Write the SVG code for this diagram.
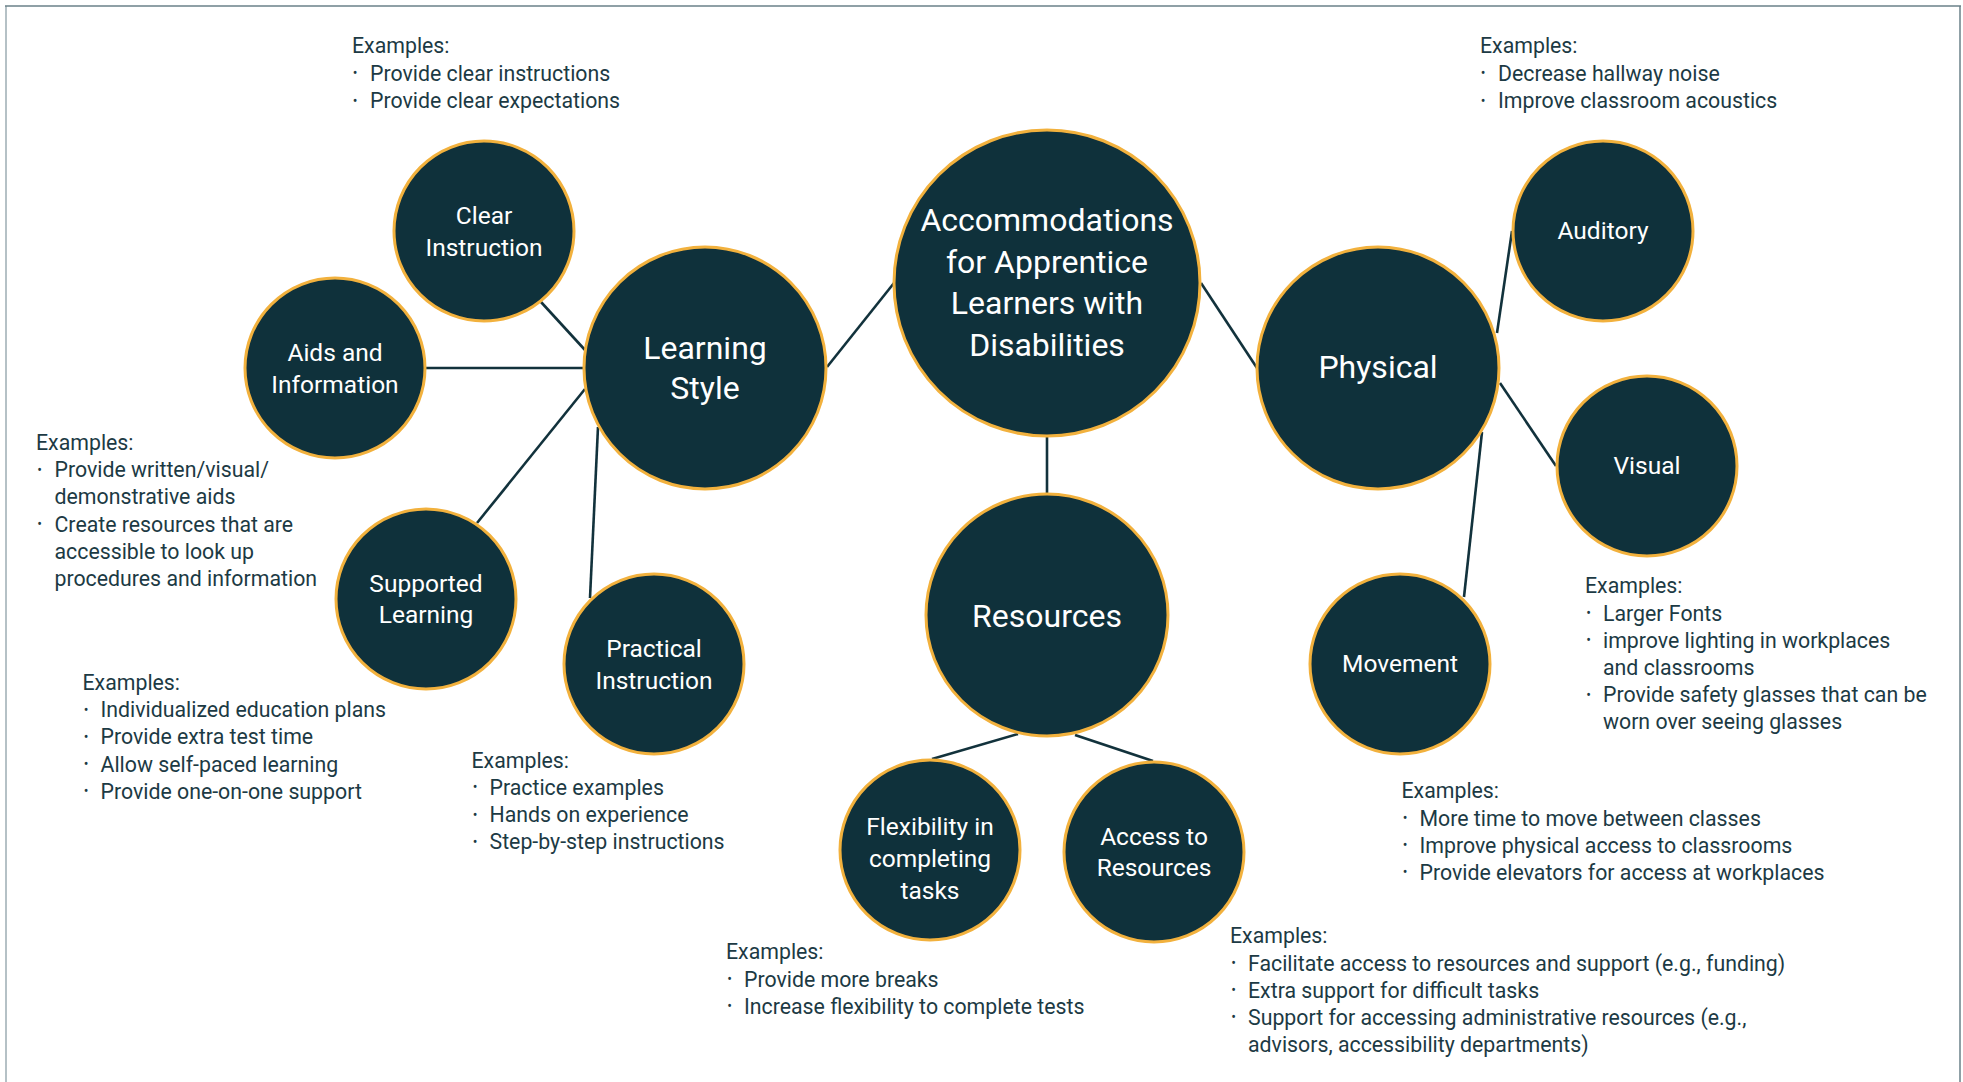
<svg xmlns="http://www.w3.org/2000/svg" width="1963" height="1082" viewBox="0 0 1963 1082">
  <style>
    .node circle { fill: #0f313b; stroke: #f2b13d; stroke-width: 3; }
    .node text { fill: #ffffff; font-family: Roboto, "Liberation Sans", sans-serif; text-anchor: middle; }
    .sm { font-size: 24.5px; }
    .lg { font-size: 32px; }
    .links line { stroke: #12323c; stroke-width: 2.6; }
    .ex text { fill: #1c3a44; font-family: Roboto, "Liberation Sans", sans-serif; font-size: 21.3px; }
    .ex text.b { font-size: 14px; text-anchor: middle; }
  </style>
  <rect width="1963" height="1082" fill="#ffffff"/>
  <!-- frame -->
  <g id="frame" fill="none">
    <line x1="6" y1="6" x2="6" y2="1082" stroke="#b5c1c6" stroke-width="2"/>
    <line x1="5" y1="6" x2="1961" y2="6" stroke="#6a8189" stroke-width="1.5"/>
    <line x1="1960" y1="6" x2="1960" y2="1082" stroke="#6a8189" stroke-width="1.5"/>
  </g>

  <!-- connectors -->
  <g id="connectors" class="links">
    <line x1="894" y1="283" x2="827" y2="367"/>
    <line x1="1201" y1="283" x2="1257" y2="368"/>
    <line x1="1047" y1="437" x2="1047" y2="493"/>
    <line x1="541" y1="302" x2="585" y2="350"/>
    <line x1="426" y1="368" x2="584" y2="368"/>
    <line x1="477" y1="523" x2="585" y2="389"/>
    <line x1="598" y1="427" x2="590" y2="598"/>
    <line x1="1512" y1="231" x2="1497" y2="333"/>
    <line x1="1500" y1="383" x2="1556" y2="466"/>
    <line x1="1482" y1="432" x2="1464" y2="597"/>
    <line x1="1018" y1="734" x2="932" y2="759"/>
    <line x1="1075" y1="735" x2="1153" y2="761"/>
  </g>

  <!-- nodes -->
  <g id="node-center" class="node">
    <circle cx="1047" cy="283" r="153"/>
    <text class="lg" x="1047" y="231">Accommodations</text>
    <text class="lg" x="1047" y="272.5">for Apprentice</text>
    <text class="lg" x="1047" y="314">Learners with</text>
    <text class="lg" x="1047" y="355.5">Disabilities</text>
  </g>
  <g id="node-learning-style" class="node">
    <circle cx="705" cy="368" r="121"/>
    <text class="lg" x="705" y="358.5">Learning</text>
    <text class="lg" x="705" y="398.5">Style</text>
  </g>
  <g id="node-physical" class="node">
    <circle cx="1378" cy="368" r="121"/>
    <text class="lg" x="1378" y="378">Physical</text>
  </g>
  <g id="node-resources" class="node">
    <circle cx="1047" cy="615" r="121"/>
    <text class="lg" x="1047" y="626.5">Resources</text>
  </g>
  <g id="node-clear-instruction" class="node">
    <circle cx="484" cy="231" r="90"/>
    <text class="sm" x="484" y="223.5">Clear</text>
    <text class="sm" x="484" y="256">Instruction</text>
  </g>
  <g id="node-aids" class="node">
    <circle cx="335" cy="368" r="90"/>
    <text class="sm" x="335" y="360.5">Aids and</text>
    <text class="sm" x="335" y="393">Information</text>
  </g>
  <g id="node-supported" class="node">
    <circle cx="426" cy="599" r="90"/>
    <text class="sm" x="426" y="591.5">Supported</text>
    <text class="sm" x="426" y="623">Learning</text>
  </g>
  <g id="node-practical" class="node">
    <circle cx="654" cy="664" r="90"/>
    <text class="sm" x="654" y="656.5">Practical</text>
    <text class="sm" x="654" y="688.5">Instruction</text>
  </g>
  <g id="node-auditory" class="node">
    <circle cx="1603" cy="231" r="90"/>
    <text class="sm" x="1603" y="239">Auditory</text>
  </g>
  <g id="node-visual" class="node">
    <circle cx="1647" cy="466" r="90"/>
    <text class="sm" x="1647" y="473.5">Visual</text>
  </g>
  <g id="node-movement" class="node">
    <circle cx="1400" cy="664" r="90"/>
    <text class="sm" x="1400" y="671.5">Movement</text>
  </g>
  <g id="node-flexibility" class="node">
    <circle cx="930" cy="850" r="90"/>
    <text class="sm" x="930" y="835">Flexibility in</text>
    <text class="sm" x="930" y="867">completing</text>
    <text class="sm" x="930" y="899">tasks</text>
  </g>
  <g id="node-access" class="node">
    <circle cx="1154" cy="852" r="90"/>
    <text class="sm" x="1154" y="844.5">Access to</text>
    <text class="sm" x="1154" y="876">Resources</text>
  </g>

  <!-- example lists -->
  <g id="ex-clear" class="ex">
    <text x="352" y="53.3">Examples:</text>
    <text class="b" x="355" y="78">•</text><text x="370" y="80.5">Provide clear instructions</text>
    <text class="b" x="355" y="105.5">•</text><text x="370" y="107.8">Provide clear expectations</text>
  </g>
  <g id="ex-auditory" class="ex">
    <text x="1480" y="53.3">Examples:</text>
    <text class="b" x="1483" y="78">•</text><text x="1498" y="80.5">Decrease hallway noise</text>
    <text class="b" x="1483" y="105.5">•</text><text x="1498" y="107.8">Improve classroom acoustics</text>
  </g>
  <g id="ex-aids" class="ex">
    <text x="36" y="450">Examples:</text>
    <text class="b" x="39.5" y="474.7">•</text><text x="54.5" y="477.2">Provide written/visual/</text>
    <text x="54.5" y="504.4">demonstrative aids</text>
    <text class="b" x="39.5" y="529.1">•</text><text x="54.5" y="531.6">Create resources that are</text>
    <text x="54.5" y="558.8">accessible to look up</text>
    <text x="54.5" y="586">procedures and information</text>
  </g>
  <g id="ex-supported" class="ex">
    <text x="82.5" y="690">Examples:</text>
    <text class="b" x="86" y="714.7">•</text><text x="100.5" y="717.2">Individualized education plans</text>
    <text class="b" x="86" y="741.9">•</text><text x="100.5" y="744.4">Provide extra test time</text>
    <text class="b" x="86" y="769.1">•</text><text x="100.5" y="771.6">Allow self-paced learning</text>
    <text class="b" x="86" y="796.3">•</text><text x="100.5" y="798.8">Provide one-on-one support</text>
  </g>
  <g id="ex-practical" class="ex">
    <text x="471.5" y="767.7">Examples:</text>
    <text class="b" x="475" y="792.4">•</text><text x="489.5" y="794.9">Practice examples</text>
    <text class="b" x="475" y="819.6">•</text><text x="489.5" y="822.1">Hands on experience</text>
    <text class="b" x="475" y="846.8">•</text><text x="489.5" y="849.3">Step-by-step instructions</text>
  </g>
  <g id="ex-flexibility" class="ex">
    <text x="726" y="959.3">Examples:</text>
    <text class="b" x="729.5" y="984">•</text><text x="744" y="986.5">Provide more breaks</text>
    <text class="b" x="729.5" y="1011.2">•</text><text x="744" y="1013.7">Increase flexibility to complete tests</text>
  </g>
  <g id="ex-access" class="ex">
    <text x="1230" y="943.3">Examples:</text>
    <text class="b" x="1233.5" y="968">•</text><text x="1248" y="970.5">Facilitate access to resources and support (e.g., funding)</text>
    <text class="b" x="1233.5" y="995.2">•</text><text x="1248" y="997.7">Extra support for difficult tasks</text>
    <text class="b" x="1233.5" y="1022.4">•</text><text x="1248" y="1024.9">Support for accessing administrative resources (e.g.,</text>
    <text x="1248" y="1052.1">advisors, accessibility departments)</text>
  </g>
  <g id="ex-visual" class="ex">
    <text x="1585" y="593.3">Examples:</text>
    <text class="b" x="1588.5" y="618">•</text><text x="1603" y="620.5">Larger Fonts</text>
    <text class="b" x="1588.5" y="645.2">•</text><text x="1603" y="647.7">improve lighting in workplaces</text>
    <text x="1603" y="674.9">and classrooms</text>
    <text class="b" x="1588.5" y="699.6">•</text><text x="1603" y="702.1">Provide safety glasses that can be</text>
    <text x="1603" y="729.3">worn over seeing glasses</text>
  </g>
  <g id="ex-movement" class="ex">
    <text x="1401.5" y="798.3">Examples:</text>
    <text class="b" x="1405" y="823">•</text><text x="1419.5" y="825.5">More time to move between classes</text>
    <text class="b" x="1405" y="850.2">•</text><text x="1419.5" y="852.7">Improve physical access to classrooms</text>
    <text class="b" x="1405" y="877.4">•</text><text x="1419.5" y="879.9">Provide elevators for access at workplaces</text>
  </g>
</svg>
